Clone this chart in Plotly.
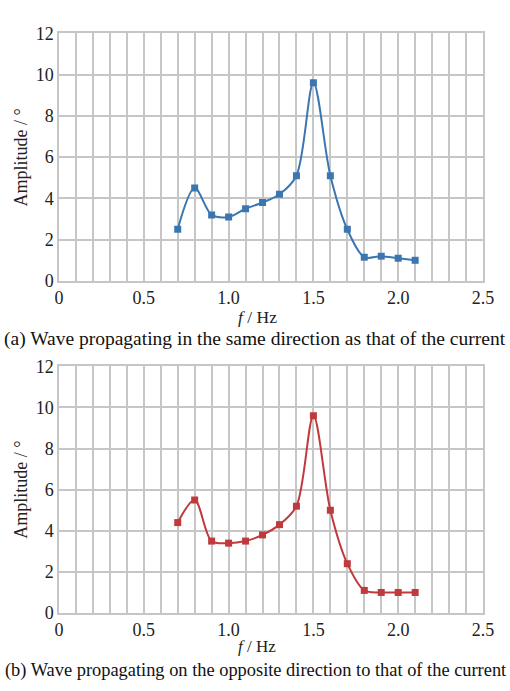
import plotly.graph_objects as go

freq = [0.7, 0.8, 0.9, 1.0, 1.1, 1.2, 1.3, 1.4, 1.5, 1.6, 1.7, 1.8, 1.9, 2.0, 2.1]
amp_same = [2.5, 4.5, 3.2, 3.1, 3.5, 3.8, 4.2, 5.1, 9.6, 5.1, 2.5, 1.15, 1.2, 1.1, 1.0]
amp_opp = [4.4, 5.5, 3.5, 3.4, 3.5, 3.8, 4.3, 5.2, 9.6, 5.0, 2.4, 1.1, 1.0, 1.0, 1.0]
x_ticks = [0, 0.5, 1.0, 1.5, 2.0, 2.5]
x_tick_labels = ["0", "0.5", "1.0", "1.5", "2.0", "2.5"]
y_ticks = [0, 2, 4, 6, 8, 10, 12]
y_title = "Amplitude / °"
x_title = "<i>f</i> / Hz"
cap_a = "(a) Wave propagating in the same direction as that of the current"
cap_b = "(b) Wave propagating on the opposite direction to that of the current"

FONT = "Liberation Serif, Times New Roman, serif"
GRID = "#c6c6c6"
W, H = 510, 691
ML, MR = 59, 27
PW = W - ML - MR

def px_x(px):
    return (px - ML) / PW

def py(px):
    return 1 - px / H

fig = go.Figure()
fig.add_trace(go.Scatter(x=freq, y=amp_same, mode="lines+markers",
                         line=dict(color="#3b76b1", width=2, shape="spline", smoothing=0.9),
                         marker=dict(symbol="square", size=7, color="#3b76b1"),
                         xaxis="x", yaxis="y", showlegend=False))
fig.add_trace(go.Scatter(x=freq, y=amp_opp, mode="lines+markers",
                         line=dict(color="#c0393d", width=2, shape="spline", smoothing=0.9),
                         marker=dict(symbol="square", size=7, color="#c0393d"),
                         xaxis="x2", yaxis="y2", showlegend=False))

xcommon = dict(range=[0, 2.5], tickvals=x_ticks, ticktext=x_tick_labels,
               showgrid=True, gridcolor=GRID, gridwidth=1.5,
               minor=dict(dtick=0.1, tick0=0, showgrid=True, gridcolor=GRID, gridwidth=1.5),
               showline=True, linecolor=GRID, linewidth=1.5, mirror=True,
               zeroline=False, ticks="", ticklen=0,
               tickfont=dict(family=FONT, size=18, color="#222"), fixedrange=True)
ycommon = dict(range=[0, 12], tickvals=y_ticks,
               showgrid=True, gridcolor=GRID, gridwidth=1.5,
               showline=True, linecolor=GRID, linewidth=1.5, mirror=True,
               zeroline=False, ticks="", ticklen=0,
               tickfont=dict(family=FONT, size=18, color="#222"),
               fixedrange=True)

fig.update_layout(
    width=W, height=H,
    margin=dict(l=ML, r=MR, t=0, b=0),
    plot_bgcolor="white", paper_bgcolor="white",
    xaxis=dict(domain=[0, 1], anchor="y", **xcommon),
    yaxis=dict(domain=[py(279), py(24)], anchor="x", **ycommon),
    xaxis2=dict(domain=[0, 1], anchor="y2", **xcommon),
    yaxis2=dict(domain=[py(621), py(367)], anchor="x2", **ycommon),
)

def ann(text, xp, yp, size, angle=0, color="#222"):
    return dict(text=text, x=px_x(xp), y=py(yp), xref="paper", yref="paper",
                xanchor="center", yanchor="middle", showarrow=False, textangle=angle,
                font=dict(family=FONT, size=size, color=color))

annots = [
    ann(y_title, 21, 152, 18, angle=-90),
    ann(y_title, 21, 494, 18, angle=-90),
    ann(x_title, 257, 316, 17.5),
    ann(x_title, 257, 655, 17),
    ann(cap_a, 255, 339, 19.5, color="#111"),
    ann(cap_b, 255, 680, 18.4, color="#111"),
]
fig.update_layout(annotations=annots)

fig.write_html("out.html")
